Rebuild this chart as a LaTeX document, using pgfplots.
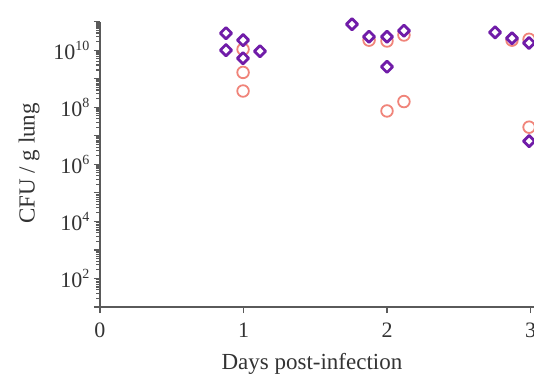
\documentclass[border=0pt]{standalone}
\usepackage{fontspec}
\setmainfont{Liberation Serif}
\usepackage{pgfplots}
\pgfplotsset{compat=1.18}
\definecolor{dpurple}{RGB}{112,28,168}
\definecolor{salmon}{RGB}{240,132,122}
\definecolor{axgray}{RGB}{90,90,90}
\newcommand{\pw}[1]{10\raisebox{0.42em}{\fontsize{14}{14}\selectfont #1}}
\begin{document}
\begin{tikzpicture}
\useasboundingbox (-100pt,-74pt) rectangle (434pt,307pt);
\clip (-100pt,-74pt) rectangle (434pt,307pt);
\begin{axis}[
  at={(0pt,0pt)}, anchor=south west,
  scale only axis,
  width=502.25pt, height=285.4pt,
  xmin=0, xmax=3.5,
  ymode=log, ymin=10, ymax=1e11,
  axis lines=left,
  axis line style={-, axgray, line width=1.4pt},
  tick style={axgray, line width=1.2pt},
  tick align=outside,
  major tick length=6pt,
  minor tick length=3.5pt,
  xtick={0,1,2,3},
  xticklabels={0,1,2,3},
  ytick={10,100,1000,1e4,1e5,1e6,1e7,1e8,1e9,1e10,1e11},
  yticklabels={,\pw{2},,\pw{4},,\pw{6},,\pw{8},,\pw{10},},
  ticklabel style={font=\fontsize{22}{24}\selectfont, text=black!80},
  xticklabel style={yshift=-6pt},
  yticklabel style={xshift=-1pt},
  /pgf/number format/assume math mode=true,
  xlabel={Days post-infection},
  ylabel={CFU / g lung},
  label style={font=\fontsize{23}{26}\selectfont, text=black!80},
  xlabel style={at={(axis description cs:0.422,0)}, anchor=center, yshift=-57pt},
  ylabel style={at={(axis description cs:-0.1413,0.503)}, anchor=center},
  clip=false,
]
\addplot[only marks, mark=o, mark size=5.8pt, mark options={draw=salmon, line width=1.8pt, fill=none}] coordinates {
 (0.997,1.07e10) (0.997,1.66e9) (0.997,3.7e8)
 (1.875,2.24e10) (2.0,2.09e10) (2.118,3.39e10) (2.0,7.4e7) (2.118,1.58e8)
 (2.871,2.24e10) (2.99,2.4e10) (2.99,2.0e7)
};
\addplot[only marks, mark=square*, mark size=4pt, mark options={rotate=45, draw=dpurple, fill=white, line width=2.8pt, line join=round}] coordinates {
 (0.878,3.94e10) (0.997,2.24e10) (0.878,1.0e10) (1.115,9.2e9) (0.997,5.2e9)
 (1.756,8.1e10) (1.875,2.95e10) (2.0,2.95e10) (2.118,4.8e10) (2.0,2.6e9)
 (2.753,4.2e10) (2.871,2.6e10) (2.99,1.78e10) (2.99,6.5e6)
};
\end{axis}
\end{tikzpicture}
\end{document}
